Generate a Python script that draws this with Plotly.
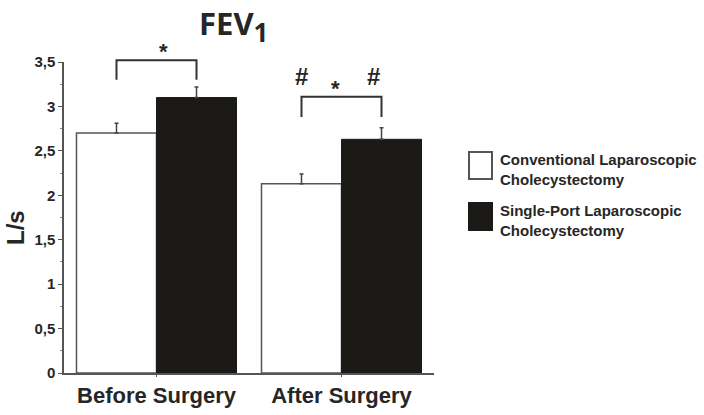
import plotly.graph_objects as go

categories = ["Before Surgery", "After Surgery"]
series_names = ["Conventional Laparoscopic<br>Cholecystectomy",
                "Single-Port Laparoscopic<br>Cholecystectomy"]
conventional = [2.70, 2.13]
conventional_err = [0.11, 0.11]
single_port = [3.10, 2.63]
single_port_err = [0.12, 0.13]
y_ticks = [0, 0.5, 1, 1.5, 2, 2.5, 3, 3.5]

Y_MAX = 3.5
X_RANGE = [-0.5, 1.5]
BARGAP = 0.135
TXT = "#262626"
LINE = "#555555"
FONT = "Liberation Sans"

# plot area in pixels
L, R, T, B = 64, 434, 62, 373
W, H = 704, 415

def px(x):  # data x -> paper
    return (x - X_RANGE[0]) / (X_RANGE[1] - X_RANGE[0])

def py(v):  # data y -> paper
    return v / Y_MAX

def ppx(p):  # pixel -> paper (decorations)
    return (p - L) / (R - L)

def ppy(p):
    return (B - p) / (B - T)

fig = go.Figure()
fig.add_trace(go.Bar(
    x=categories, y=conventional, name=series_names[0],
    marker=dict(color="white", line=dict(color=LINE, width=1.5)),
    error_y=dict(type="data", array=conventional_err, arrayminus=[0, 0],
                 symmetric=False, color="#444", thickness=1.5, width=2),
))
fig.add_trace(go.Bar(
    x=categories, y=single_port, name=series_names[1],
    marker=dict(color="#1c1a17", line=dict(color="#1c1a17", width=1)),
    error_y=dict(type="data", array=single_port_err, arrayminus=[0, 0],
                 symmetric=False, color="#444", thickness=1.5, width=2),
))

off = (1 - BARGAP) / 4  # center offset of each bar within its group

# significance brackets: (category index, bottom level, top level)
brackets = [(0, 3.30, 3.52), (1, 2.88, 3.11)]
shapes = []
annotations = []
for ci, lo, hi in brackets:
    x0, x1 = px(ci - off), px(ci + off)
    shapes.append(dict(type="path", xref="paper", yref="paper",
                       path=f"M {x0} {py(lo)} L {x0} {py(hi)} L {x1} {py(hi)} L {x1} {py(lo)}",
                       line=dict(color="#333", width=2)))
    annotations.append(dict(xref="paper", yref="paper", x=px(ci), y=py(hi),
                            text="*", showarrow=False, yanchor="bottom", yshift=-6,
                            font=dict(family=FONT, size=22, color=TXT, weight="bold")))
# hash marks over after-surgery bars
for dx in (-off, off):
    annotations.append(dict(xref="paper", yref="paper", x=px(1 + dx), y=py(3.34),
                            text="#", showarrow=False, yanchor="middle",
                            font=dict(family=FONT, size=24, color=TXT, weight="bold")))

# title
annotations.append(dict(xref="paper", yref="paper", x=ppx(233), y=ppy(0),
                        text='FEV<sub><span style="font-size:26px">1</span></sub>',
                        showarrow=False, xanchor="center", yanchor="top",
                        font=dict(family="Open Sans", size=31, color=TXT, weight="bold")))

# y-axis title
annotations.append(dict(xref="paper", yref="paper", x=ppx(15), y=ppy(228),
                        text="L/s", showarrow=False, xanchor="center", yanchor="middle",
                        textangle=-90,
                        font=dict(family=FONT, size=24, color=TXT, weight="bold")))

# custom legend
legend_items = [(152, "white", LINE), (203, "#1c1a17", "#1c1a17")]
for (top, fill, edge), name in zip(legend_items, series_names):
    shapes.append(dict(type="rect", xref="paper", yref="paper",
                       x0=ppx(469), x1=ppx(492), y0=ppy(top), y1=ppy(top + 27),
                       fillcolor=fill, line=dict(color=edge, width=2)))
    annotations.append(dict(xref="paper", yref="paper", x=ppx(498), y=ppy(top - 3),
                            text=name, showarrow=False, xanchor="left", yanchor="top", align="left",
                            font=dict(family=FONT, size=15, color=TXT, weight="bold")))

fig.update_layout(
    width=W, height=H,
    margin=dict(l=L, r=W - R, t=T, b=H - B, pad=0, autoexpand=False),
    paper_bgcolor="white", plot_bgcolor="white",
    barmode="group", bargap=BARGAP, bargroupgap=0,
    showlegend=False,
    separators=",.",
    shapes=shapes, annotations=annotations,
    xaxis=dict(range=X_RANGE, showline=True, linecolor=LINE, linewidth=1.5,
               ticks="outside", ticklen=2, tickcolor=LINE, showgrid=False,
               automargin=False,
               tickfont=dict(family=FONT, size=22, color=TXT, weight="bold")),
    yaxis=dict(range=[0, Y_MAX], tickvals=y_ticks, showline=True, linecolor=LINE, linewidth=1.5,
               ticks="outside", ticklen=4, tickcolor=LINE, showgrid=False, zeroline=False,
               automargin=False,
               minor=dict(dtick=0.25, ticks="outside", ticklen=2, tickcolor="#888"),
               tickfont=dict(family=FONT, size=15, color=TXT, weight="bold")),
)

fig.write_html("out.html")
